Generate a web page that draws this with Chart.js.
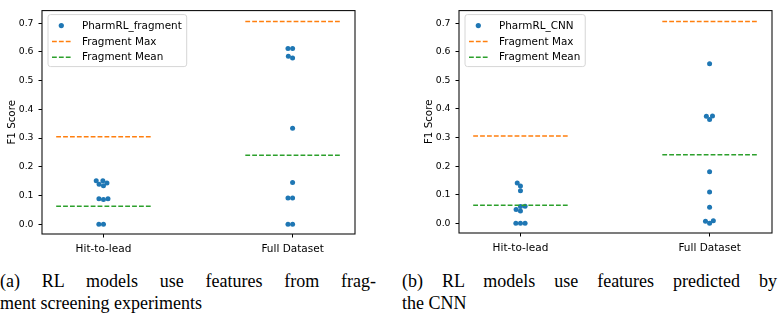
<!DOCTYPE html>
<html>
<head>
<meta charset="utf-8">
<script src="https://cdn.jsdelivr.net/npm/chart.js@4.4.0/dist/chart.umd.min.js"></script>
<style>
html, body { margin: 0; padding: 0; background: #fff; }
body { width: 778px; height: 317px; position: relative; overflow: hidden; }
.painel { position: absolute; }
.legenda { position: absolute; top: 270px; width: 376px; font-family: "Liberation Serif", serif; font-size: 18px; line-height: 22px; color: #000; }
.legenda .l1 { text-align: justify; text-align-last: justify; }
</style>
</head>
<body>
<canvas id="graficoA" class="painel" width="389" height="252" style="left:0;top:0"></canvas>
<canvas id="graficoB" class="painel" width="361" height="252" style="left:417px;top:0"></canvas>
<div class="legenda" style="left:0"><div class="l1">(a) RL models use features from frag-</div><div>ment screening experiments</div></div>
<div class="legenda" style="left:402px;width:375px"><div class="l1">(b) RL models use features predicted by</div><div>the CNN</div></div>
<script>
// dados
const categorias = ['Hit-to-lead', 'Full Dataset'];
const yTicks = [0.0, 0.1, 0.2, 0.3, 0.4, 0.5, 0.6, 0.7];
const fragHit = [0, 0, 0.086, 0.089, 0.089, 0.134, 0.139, 0.144, 0.151, 0.151];
const fragFull = [0, 0, 0.091, 0.091, 0.145, 0.334, 0.579, 0.585, 0.612, 0.612];
const cnnHit = [0, 0, 0, 0.043, 0.048, 0.059, 0.060, 0.114, 0.130, 0.141];
const cnnFull = [0, 0.007, 0.009, 0.056, 0.109, 0.180, 0.363, 0.374, 0.375, 0.558];
const fragmentMax = [0.305, 0.706];
const fragmentMean = [0.063, 0.240];

const AZUL = '#1f77b4', LARANJA = '#ff7f0e', VERDE = '#2ca02c';
const DIAM = 4.4; // distancia minima entre pontos do enxame (px)
const TRACO = [4.8, 2.1];

// segmentos horizontais de cada categoria
function segmentos(valores) {
  const out = [];
  valores.forEach((v, i) => {
    if (i > 0) out.push({ x: i - 0.5, y: null });
    out.push({ x: i - 0.25, y: v }, { x: i + 0.25, y: v });
  });
  return out;
}

// swarm simples, parecido com o do seaborn
function enxame(valores, xs, ys, centro) {
  const pts = valores.map(v => ({ v, y: -ys.getPixelForValue(v) })).sort((a, b) => a.y - b.y);
  const swarm = [];
  for (const p of pts) {
    const viz = [];
    for (let j = swarm.length - 1; j >= 0; j--) {
      if (p.y - swarm[j].y < DIAM) viz.unshift(swarm[j]); else break;
    }
    const cand = [0];
    let esq = true;
    for (const q of viz) {
      const dy = p.y - q.y;
      const dx = Math.sqrt(Math.max(DIAM * DIAM - dy * dy, 0)) * 1.05;
      if (esq) cand.push(q.x - dx, q.x + dx); else cand.push(q.x + dx, q.x - dx);
      esq = !esq;
    }
    const ord = cand.map((x, i) => ({ x, i })).sort((a, b) => Math.abs(a.x) - Math.abs(b.x) || a.i - b.i);
    let x = ord[0].x;
    for (const c of ord) {
      if (viz.every(q => (q.x - c.x) ** 2 + (q.y - p.y) ** 2 >= DIAM * DIAM - 1e-6)) { x = c.x; break; }
    }
    swarm.push({ x, y: p.y, v: p.v });
  }
  const cx = xs.getPixelForValue(centro);
  return swarm.map(s => ({ x: xs.getValueForPixel(cx + s.x), y: s.v }));
}

const moldura = {
  id: 'moldura',
  afterDatasetsDraw(chart) {
    const { ctx, chartArea: a } = chart;
    ctx.save();
    ctx.strokeStyle = '#111';
    ctx.lineWidth = 1.1;
    ctx.strokeRect(a.left, a.top, a.right - a.left, a.bottom - a.top);
    ctx.restore();
  }
};

const caixaLegenda = {
  id: 'caixaLegenda',
  afterDraw(chart, args, opts) {
    const { ctx, chartArea: a } = chart;
    ctx.save();
    ctx.font = '10.4px "DejaVu Sans"';
    const itens = opts.itens;
    const w = 34 + Math.max(...itens.map(i => ctx.measureText(i.texto).width)) + 5;
    const x0 = a.left + 6, y0 = a.top + 4, h = 52;
    ctx.beginPath();
    ctx.roundRect(x0, y0, w, h, 2.5);
    ctx.fillStyle = 'rgba(255,255,255,0.85)';
    ctx.fill();
    ctx.strokeStyle = '#d6d6d6';
    ctx.lineWidth = 1;
    ctx.stroke();
    itens.forEach((it, k) => {
      const yy = y0 + 11 + k * 15.8;
      if (it.tipo === 'ponto') {
        ctx.beginPath();
        ctx.arc(x0 + 13.3, yy, 2.6, 0, Math.PI * 2);
        ctx.fillStyle = it.cor;
        ctx.fill();
      } else {
        ctx.beginPath();
        ctx.setLineDash(TRACO);
        ctx.moveTo(x0 + 4, yy);
        ctx.lineTo(x0 + 23.3, yy);
        ctx.strokeStyle = it.cor;
        ctx.lineWidth = 1.5;
        ctx.stroke();
        ctx.setLineDash([]);
      }
      ctx.fillStyle = '#000';
      ctx.textBaseline = 'middle';
      ctx.fillText(it.texto, x0 + 34, yy + 0.5);
    });
    ctx.restore();
  }
};

function gerarGrafico(id, nome, hit, full, padTopo, padDir, altX) {
  const grafico = new Chart(document.getElementById(id), {
    type: 'scatter',
    data: {
      datasets: [
        { label: nome, data: [...hit.map(v => ({ x: 0, y: v })), ...full.map(v => ({ x: 1, y: v }))],
          backgroundColor: AZUL, borderWidth: 0, pointRadius: 2.5, order: 1 },
        { label: 'Fragment Max', data: segmentos(fragmentMax), showLine: true, spanGaps: false,
          borderColor: LARANJA, borderWidth: 1.5, borderDash: TRACO, pointRadius: 0, order: 0 },
        { label: 'Fragment Mean', data: segmentos(fragmentMean), showLine: true, spanGaps: false,
          borderColor: VERDE, borderWidth: 1.5, borderDash: TRACO, pointRadius: 0, order: 0 }
      ]
    },
    options: {
      responsive: false,
      animation: false,
      events: [],
      layout: { padding: { left: 0, top: padTopo, right: padDir, bottom: 0 } },
      plugins: {
        legend: { display: false },
        tooltip: { enabled: false },
        caixaLegenda: {
          itens: [
            { tipo: 'ponto', cor: AZUL, texto: nome },
            { tipo: 'linha', cor: LARANJA, texto: 'Fragment Max' },
            { tipo: 'linha', cor: VERDE, texto: 'Fragment Mean' }
          ]
        }
      },
      scales: {
        x: {
          type: 'linear', min: -0.325, max: 1.33,
          afterBuildTicks: ax => { ax.ticks = categorias.map((c, i) => ({ value: i })); },
          afterFit: ax => { ax.height = altX; },
          border: { display: false },
          grid: { drawOnChartArea: false, drawTicks: true, tickLength: 3.5, color: '#000', lineWidth: 1 },
          ticks: { color: '#000', font: { family: 'DejaVu Sans', size: 10.5 }, padding: 5, maxRotation: 0,
            callback: v => categorias[v] }
        },
        y: {
          min: -0.034, max: 0.744,
          afterBuildTicks: ax => { ax.ticks = yTicks.map(v => ({ value: v })); },
          afterFit: ax => { ax.width = 42; },
          border: { display: false },
          grid: { drawOnChartArea: false, drawTicks: true, tickLength: 3.5, color: '#000', lineWidth: 1 },
          ticks: { color: '#000', font: { family: 'DejaVu Sans', size: 9.3 }, padding: 5,
            callback: v => v.toFixed(1) },
          title: { display: true, text: 'F1 Score', color: '#000', font: { family: 'DejaVu Sans', size: 10.3 },
            padding: { top: 6, bottom: 0 } }
        }
      }
    },
    plugins: [moldura, caixaLegenda]
  });
  const xs = grafico.scales.x, ys = grafico.scales.y;
  grafico.data.datasets[0].data = [...enxame(hit, xs, ys, 0), ...enxame(full, xs, ys, 1)];
  grafico.update('none');
}

gerarGrafico('graficoA', 'PharmRL_fragment', fragHit, fragFull, 1, 34, 18);
gerarGrafico('graficoB', 'PharmRL_CNN', cnnHit, cnnFull, 0.5, 6, 19);
</script>
</body>
</html>
